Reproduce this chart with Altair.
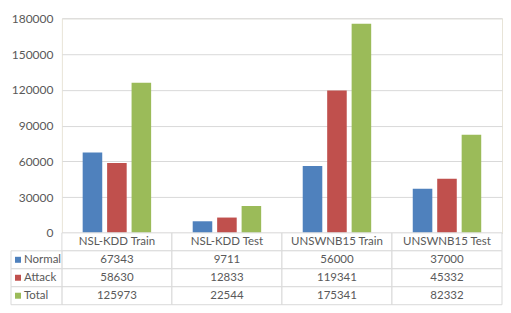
import altair as alt
import pandas as pd

categories = ["NSL-KDD Train", "NSL-KDD Test", "UNSWNB15 Train", "UNSWNB15 Test"]
series = ["Normal", "Attack", "Total"]
normal = [67343, 9711, 56000, 37000]
attack = [58630, 12833, 119341, 45332]
total = [125973, 22544, 175341, 82332]
colors = ["#4F81BD", "#C0504D", "#9BBB59"]
y_ticks = [0, 30000, 60000, 90000, 120000, 150000, 180000]

vals = {"Normal": normal, "Attack": attack, "Total": total}
long_rows = []
for s in series:
    for c, v in zip(categories, vals[s]):
        long_rows.append({"cat": c, "series": s, "value": v})
df_long = pd.DataFrame(long_rows)

table_rows = []
for c in categories:
    table_rows.append({"cat": c, "row": "header", "text": c})
for s in series:
    for c, v in zip(categories, vals[s]):
        table_rows.append({"cat": c, "row": s, "text": str(v)})
df_table = pd.DataFrame(table_rows)
df_labels = pd.DataFrame({"row": series})

FONT = "Lato"
TXT = "#595959"
GRID = "#d9d9d9"
W = 441

xscale = alt.Scale(domain=categories, paddingInner=0, paddingOuter=0)
cscale = alt.Scale(domain=series, range=colors)
row_domain = ["header"] + series
yband = alt.Scale(domain=row_domain, paddingInner=0, paddingOuter=0)

bars = alt.Chart(df_long).mark_bar().encode(
    x=alt.X("cat:N", sort=categories, scale=xscale, axis=None),
    xOffset=alt.XOffset("series:N", sort=series,
                        scale=alt.Scale(domain=series, paddingInner=0.2, paddingOuter=0.85)),
    y=alt.Y("value:Q", scale=alt.Scale(domain=[0, 180000]),
            axis=alt.Axis(values=y_ticks, title=None, ticks=False, domain=False,
                          labelPadding=9, gridColor=GRID, labelColor=TXT,
                          labelFont=FONT, labelFontSize=12, format="d")),
    color=alt.Color("series:N", scale=cscale, legend=None),
).properties(width=W, height=215, view=alt.ViewBackground(stroke="#e8e4d8"))

cells = alt.Chart(df_table).mark_rect(fill="white", stroke=GRID, strokeWidth=1).encode(
    x=alt.X("cat:N", sort=categories, scale=xscale, axis=None),
    y=alt.Y("row:N", scale=yband, axis=None),
)
cell_text = alt.Chart(df_table).mark_text(font=FONT, fontSize=11.5, color=TXT).encode(
    x=alt.X("cat:N", sort=categories, scale=xscale, axis=None),
    y=alt.Y("row:N", scale=yband, axis=None),
    text="text:N",
)
left_cells = alt.Chart(df_labels).mark_rect(fill="white", stroke=GRID, strokeWidth=1).encode(
    x=alt.value(-51), x2=alt.value(0),
    y=alt.Y("row:N", scale=yband, axis=None),
)
squares = alt.Chart(df_labels).mark_square(size=36, opacity=1).encode(
    x=alt.value(-44),
    y=alt.Y("row:N", scale=yband, axis=None),
    color=alt.Color("row:N", scale=cscale, legend=None),
)
row_labels = alt.Chart(df_labels).mark_text(font=FONT, fontSize=11.5, color=TXT, align="left").encode(
    x=alt.value(-38),
    y=alt.Y("row:N", scale=yband, axis=None),
    text="row:N",
)
table = alt.layer(cells, left_cells, cell_text, squares, row_labels).properties(
    width=W, height=72, view=alt.ViewBackground(stroke=None, strokeOpacity=0)
)

chart = alt.vconcat(bars, table, spacing=0, bounds="flush").properties(
    padding={"left": 2, "top": 3, "right": 0, "bottom": 2},
    background="white",
).configure_view(stroke=None)

chart.save("out.html", embed_options={"renderer": "svg", "actions": False})
